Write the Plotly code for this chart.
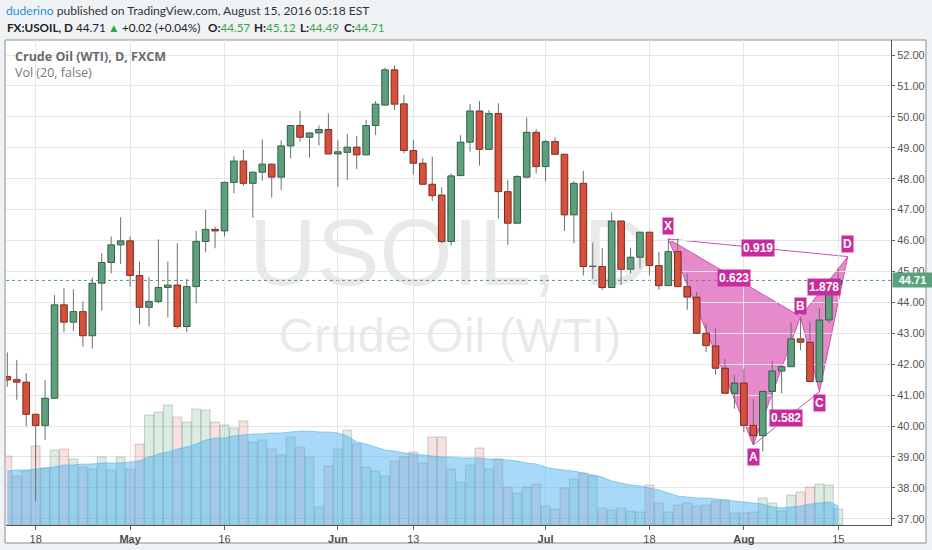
import plotly.graph_objects as go

# ---------------- data ----------------
dates = [
    "2016-04-13", "2016-04-14", "2016-04-15", "2016-04-18", "2016-04-19", "2016-04-20", "2016-04-21",
    "2016-04-22", "2016-04-25", "2016-04-26", "2016-04-27", "2016-04-28", "2016-04-29",
    "2016-05-02", "2016-05-03", "2016-05-04", "2016-05-05", "2016-05-06", "2016-05-09", "2016-05-10",
    "2016-05-11", "2016-05-12", "2016-05-13", "2016-05-16", "2016-05-17", "2016-05-18", "2016-05-19",
    "2016-05-20", "2016-05-23", "2016-05-24", "2016-05-25", "2016-05-26", "2016-05-27", "2016-05-30",
    "2016-05-31",
    "2016-06-01", "2016-06-02", "2016-06-03", "2016-06-06", "2016-06-07", "2016-06-08", "2016-06-09",
    "2016-06-10", "2016-06-13", "2016-06-14", "2016-06-15", "2016-06-16", "2016-06-17", "2016-06-20",
    "2016-06-21", "2016-06-22", "2016-06-23", "2016-06-24", "2016-06-27", "2016-06-28", "2016-06-29",
    "2016-06-30",
    "2016-07-01", "2016-07-04", "2016-07-05", "2016-07-06", "2016-07-07", "2016-07-08", "2016-07-11",
    "2016-07-12", "2016-07-13", "2016-07-14", "2016-07-15", "2016-07-18", "2016-07-19", "2016-07-20",
    "2016-07-21", "2016-07-22", "2016-07-25", "2016-07-26", "2016-07-27", "2016-07-28", "2016-07-29",
    "2016-08-01", "2016-08-02", "2016-08-03", "2016-08-04", "2016-08-05", "2016-08-08", "2016-08-09",
    "2016-08-10", "2016-08-11", "2016-08-12", "2016-08-15",
]
opens = [41.60, 41.50, 41.42, 40.38, 40.02, 40.90, 43.92, 43.36, 43.70, 42.92, 44.62, 45.29, 45.86,
         45.99, 44.87, 43.84, 44.03, 44.48, 44.56, 43.22, 44.51, 45.97, 46.36, 46.31, 47.88, 48.57,
         47.85, 48.21, 48.47, 48.05, 49.06, 49.72, 49.34, 49.48, 49.59, 48.80, 48.85, 49.02, 48.77,
         49.72, 50.38, 51.52, 50.42, 48.91, 48.50, 47.82, 47.47, 45.97, 48.10, 49.18, 50.19, 48.95,
         50.11, 47.58, 46.56, 48.05, 49.50, 48.39, 49.20, 48.79, 46.83, 47.85, 45.16, 45.16, 44.48,
         46.63, 45.07, 45.46, 46.27, 45.19, 44.54, 45.64, 44.51, 44.17, 43.00, 42.59, 41.87, 41.06,
         41.39, 40.02, 39.69, 41.12, 41.78, 41.92, 42.82, 42.71, 41.44, 43.43, 44.57]
highs = [42.38, 42.14, 41.71, 40.40, 41.49, 44.24, 44.46, 44.42, 44.03, 44.80, 45.59, 46.13, 46.75,
         46.13, 45.32, 44.83, 46.04, 45.32, 45.91, 44.76, 46.31, 46.99, 46.45, 47.90, 48.73, 48.93,
         48.23, 49.27, 48.47, 49.24, 49.72, 50.19, 49.48, 49.72, 50.11, 49.25, 49.45, 49.38, 49.90,
         50.51, 51.59, 51.66, 50.71, 49.25, 48.66, 48.71, 47.72, 48.17, 49.41, 50.41, 50.51, 50.22,
         50.44, 47.96, 48.12, 49.98, 49.61, 49.25, 49.33, 48.79, 47.93, 48.25, 45.94, 45.75, 46.91,
         46.63, 45.77, 46.27, 46.27, 45.64, 46.05, 46.07, 44.94, 44.33, 43.33, 43.16, 42.17, 41.66,
         41.85, 40.88, 41.12, 42.09, 41.92, 43.36, 43.49, 43.38, 43.81, 44.69, 45.12]
lows = [41.27, 40.85, 39.99, 37.56, 39.55, 40.88, 43.03, 43.08, 42.57, 42.50, 43.73, 44.94, 45.24,
        44.51, 43.29, 43.22, 43.97, 43.51, 43.15, 43.03, 43.97, 45.62, 45.75, 46.13, 47.53, 47.77,
        46.74, 47.93, 47.39, 47.64, 48.66, 49.20, 48.68, 49.07, 48.80, 47.74, 47.96, 48.31, 48.75,
        49.41, 50.36, 50.22, 48.82, 48.14, 47.82, 47.28, 45.91, 45.84, 48.08, 48.88, 48.42, 48.93,
        46.72, 45.86, 46.53, 48.01, 48.17, 47.91, 48.79, 46.31, 45.91, 44.87, 44.76, 44.40, 44.46,
        44.56, 44.94, 45.10, 44.87, 44.40, 44.53, 44.51, 43.76, 43.00, 42.39, 41.66, 41.06, 40.56,
        39.80, 39.39, 39.18, 40.45, 41.06, 41.92, 42.46, 41.44, 41.44, 43.33, 44.49]
closes = [41.49, 41.42, 40.38, 40.02, 40.90, 43.92, 43.36, 43.70, 42.92, 44.62, 45.29, 45.86, 45.99,
          44.87, 43.84, 44.03, 44.48, 44.56, 43.22, 44.51, 45.97, 46.36, 46.31, 47.88, 48.57, 47.85,
          48.21, 48.47, 48.05, 49.06, 49.72, 49.34, 49.48, 49.59, 48.80, 48.87, 49.02, 48.77, 49.72,
          50.41, 51.52, 50.41, 48.91, 48.50, 47.82, 47.45, 45.97, 48.09, 49.18, 50.19, 48.95, 50.11,
          47.58, 46.56, 48.07, 49.50, 48.39, 49.20, 48.79, 46.83, 47.85, 45.16, 45.17, 44.48, 46.63,
          45.07, 45.46, 46.27, 45.19, 44.54, 45.64, 44.51, 44.17, 43.00, 42.60, 41.87, 41.06, 41.39,
          40.02, 39.69, 41.12, 41.78, 41.92, 42.82, 42.71, 41.44, 43.43, 44.69, 44.71]
# volume (relative units, thousands)
volume = [69, 49, 54, 79, 57, 75, 76, 66, 58, 56, 68, 55, 68, 56, 81, 110, 113, 120, 108, 103,
          116, 115, 103, 100, 97, 104, 83, 85, 76, 70, 88, 78, 68, 18, 59, 76, 95, 81, 58, 54,
          49, 64, 68, 73, 62, 88, 88, 56, 43, 60, 77, 56, 66, 38, 32, 38, 41, 19, 16, 37,
          46, 52, 49, 17, 15, 17, 14, 13, 40, 22, 13, 20, 22, 19, 20, 24, 25, 12, 12, 13,
          27, 22, 14, 30, 33, 38, 41, 40, 16]
volume_ma = [54, 55, 55, 56, 57, 58, 60, 60, 61, 61, 62, 62, 62, 63, 64, 68, 71, 73, 76, 78,
             81, 85, 87, 87, 89, 90, 91, 91, 92, 92, 93, 94, 94, 93, 93, 92, 89, 83, 81, 78,
             75, 74, 72, 71, 70, 69, 68, 68, 67, 67, 67, 66, 66, 65, 64, 62, 61, 58, 56, 55,
             54, 52, 50, 48, 44, 42, 40, 39, 37, 35, 32, 29, 28, 27, 27, 26, 25, 24, 23, 22,
             21, 18, 17, 18, 19, 21, 22, 23, 19]
tick_dates = ["2016-04-18", "2016-05-02", "2016-05-16", "2016-06-01", "2016-06-13",
              "2016-07-01", "2016-07-18", "2016-08-01", "2016-08-15"]
tick_labels = ["18", "<b>May</b>", "16", "<b>Jun</b>", "13", "<b>Jul</b>", "18", "<b>Aug</b>", "15"]
price_ticks = [37, 38, 39, 40, 41, 42, 43, 44, 45, 46, 47, 48, 49, 50, 51, 52]

# XABCD harmonic pattern (bar index, price)
pattern_names = ["X", "A", "B", "C", "D"]
pattern_bar = [70, 79, 84, 86, 89]
pattern_price = [46.05, 39.39, 43.54, 41.11, 45.48]
ratio_pairs = [("X", "D"), ("X", "B"), ("B", "D"), ("A", "C")]
ratio_values = ["0.919", "0.623", "1.878", "0.582"]

last_change = 0.02
last_change_pct = 0.04

# ---------------- layout geometry ----------------
W, H = 932, 550
PL, PR, PT, PB = 6, 891, 40, 525


def pxx(v):
    return (v - PL) / (PR - PL)


def pxy(v):
    return (PB - v) / (PB - PT)


xs = list(range(len(dates)))
UP_FILL, UP_LINE = "#5f9f7d", "#2f5f46"
DN_FILL, DN_LINE = "#d6503c", "#7a2a1e"
GREEN_TXT = "#3aa64a"

is_up = [c >= o for o, c in zip(opens, closes)]

fig = go.Figure()

# volume bars (main y axis, hidden)
fig.add_trace(go.Bar(
    x=xs, y=volume, yaxis="y", width=0.94,
    marker=dict(color=["rgba(90,170,115,0.22)" if u else "rgba(215,90,80,0.18)" for u in is_up],
                line=dict(color="rgba(105,115,125,0.45)", width=0.7)),
    hoverinfo="skip", showlegend=False))
# volume moving average area
fig.add_trace(go.Scatter(
    x=xs, y=volume_ma, yaxis="y", mode="lines", fill="tozeroy",
    fillcolor="rgba(70,175,240,0.47)", line=dict(color="rgba(70,175,240,0.55)", width=1),
    hoverinfo="skip", showlegend=False))

# candle bodies
fig.add_trace(go.Bar(
    x=xs, y=[c - o for o, c in zip(opens, closes)], base=opens, yaxis="y2", width=0.7,
    marker=dict(color=[UP_FILL if u else DN_FILL for u in is_up],
                line=dict(color=[UP_LINE if u else DN_LINE for u in is_up], width=1)),
    hoverinfo="skip", showlegend=False))
# wicks
wx, wy = [], []
for i, (o, h, l, c) in enumerate(zip(opens, highs, lows, closes)):
    top, bot = max(o, c), min(o, c)
    wx += [i, i, None, i, i, None]
    wy += [h, top, None, bot, l, None]
fig.add_trace(go.Scatter(x=wx, y=wy, yaxis="y2", mode="lines",
                         line=dict(color="#6e6e6e", width=1), hoverinfo="skip", showlegend=False))

shapes = []
# white chart box
shapes.append(dict(type="rect", xref="paper", yref="paper", layer="below",
                   x0=pxx(5), x1=pxx(926), y0=pxy(543), y1=pxy(40),
                   fillcolor="white", line=dict(color="#8c8c8c", width=1)))
# watermark
shapes.append(dict(type="rect", xref="paper", yref="paper", layer="below",
                   x0=pxx(200), x1=pxx(700), y0=pxy(282), y1=pxy(204),
                   line=dict(width=0), fillcolor="rgba(0,0,0,0)",
                   label=dict(text="USOIL, D", textposition="middle center",
                              font=dict(family="Liberation Sans", size=94, color="rgba(0,0,0,0.085)"))))
shapes.append(dict(type="rect", xref="paper", yref="paper", layer="below",
                   x0=pxx(200), x1=pxx(700), y0=pxy(355), y1=pxy(305),
                   line=dict(width=0), fillcolor="rgba(0,0,0,0)",
                   label=dict(text="Crude Oil (WTI)", textposition="middle center",
                              font=dict(family="Liberation Sans", size=49, color="rgba(0,0,0,0.085)"))))

# pattern triangles
pt = {n: (b, p) for n, b, p in zip(pattern_names, pattern_bar, pattern_price)}
PINK_FILL = "rgba(214,60,168,0.6)"
PINK_LINE = "#d050ae"
for tri in (("X", "A", "B"), ("B", "C", "D")):
    path = "M " + " L ".join(f"{pt[n][0]},{pt[n][1]}" for n in tri) + " Z"
    shapes.append(dict(type="path", xref="x", yref="y2", layer="below", path=path,
                       fillcolor=PINK_FILL, line=dict(color=PINK_LINE, width=1)))
for a, b in (("X", "D"), ("A", "C")):
    shapes.append(dict(type="line", xref="x", yref="y2", layer="below",
                       x0=pt[a][0], y0=pt[a][1], x1=pt[b][0], y1=pt[b][1],
                       line=dict(color=PINK_LINE, width=1)))

# last price dotted line
last_price = closes[-1]
shapes.append(dict(type="line", xref="paper", yref="y2", layer="below", x0=0, x1=1,
                   y0=last_price, y1=last_price, line=dict(color="#4f9c7b", width=1, dash="dot")))

annotations = []
LABEL_BG = "#c92a9d"
lab_font = dict(family="Liberation Sans", size=12, color="white")
for (a, b), txt in zip(ratio_pairs, ratio_values):
    annotations.append(dict(xref="x", yref="y2", x=(pt[a][0] + pt[b][0]) / 2,
                            y=(pt[a][1] + pt[b][1]) / 2, text=f"<b>{txt}</b>", showarrow=False,
                            bgcolor=LABEL_BG, borderpad=1, font=lab_font))
letter_shift = {"X": 13, "A": -12, "B": 11, "C": -11, "D": 13}
for n in pattern_names:
    annotations.append(dict(xref="x", yref="y2", x=pt[n][0], y=pt[n][1], yshift=letter_shift[n],
                            text=f"<b>{n}</b>", showarrow=False, bgcolor=LABEL_BG, borderpad=1,
                            font=lab_font))


def header(text, x_px, y_px, box_w, color="#222222", size=11.7, family="Lato"):
    annotations.append(dict(xref="paper", yref="paper", x=pxx(x_px), y=pxy(y_px), xanchor="left",
                            yanchor="middle", showarrow=False, text=text, width=box_w, align="left",
                            borderpad=0, font=dict(family=family, size=size, color=color)))


header("<span style='color:#2a8fd1'>duderino</span> published on TradingView.com, "
       "August 15, 2016 05:18 EST", 5, 11, 420, color="#333333", size=12.1)
g = lambda v: f"<span style='color:{GREEN_TXT}'>{v:.2f}</span>"
header(f"<b>FX:USOIL, D</b> {closes[-1]:.2f}", 6, 27, 100)
header("▲", 107, 27, 14, color="#2aa63c")
header(f"+{last_change:.2f} (+{last_change_pct:.2f}%)", 121, 27, 86)
header(f"<b>O:</b>{g(opens[-1])}", 207, 27, 46)
header(f"<b>H:</b>{g(highs[-1])}", 253, 27, 46)
header(f"<b>L:</b>{g(lows[-1])}", 299, 27, 44)
header(f"<b>C:</b>{g(closes[-1])}", 343, 27, 46)

header("<b>Crude Oil (WTI), D, FXCM</b>", 14, 56, 200, color="#6b6b6b", size=12.5, family="Open Sans")
header("Vol (20, false)", 14, 72, 120, color="#777777", size=12.5, family="Open Sans")

# last price tag on axis
annotations.append(dict(xref="paper", yref="y2", x=1, y=last_price, xanchor="left", yanchor="middle",
                        showarrow=False, text=f"<b>{last_price:.2f}</b>", bgcolor="#5aa27f",
                        font=dict(family="Liberation Sans", size=11, color="white"),
                        borderpad=1, width=37, align="center", xshift=1))

tickvals = [dates.index(d) for d in tick_dates]
fig.update_layout(
    width=W, height=H, margin=dict(l=PL, r=W - PR, t=PT, b=H - PB),
    paper_bgcolor="#f0f3f6", plot_bgcolor="rgba(0,0,0,0)",
    barmode="overlay", showlegend=False, shapes=shapes, annotations=annotations,
    xaxis=dict(range=[-0.14, 93.58], tickvals=tickvals, ticktext=tick_labels, showgrid=True,
               gridcolor="#e6e6e6", gridwidth=1, zeroline=False, ticks="outside", ticklen=4,
               tickcolor="#666", showline=True, linecolor="#555", linewidth=1,
               tickfont=dict(family="Liberation Sans", size=11, color="#4d4d4d")),
    yaxis=dict(range=[0, PB - PT], visible=False, fixedrange=True),
    yaxis2=dict(overlaying="y", side="right", range=[36.80, 52.485], tickvals=price_ticks,
                tickformat=".2f", showgrid=True, gridcolor="#e6e6e6", gridwidth=1, zeroline=False,
                ticks="outside", ticklen=3, tickcolor="#666", showline=True, linecolor="#555",
                linewidth=1, tickfont=dict(family="Liberation Sans", size=11, color="#555")),
)

fig.write_html("out.html", config={"displayModeBar": False},
               post_script="document.body.style.margin='0';")
